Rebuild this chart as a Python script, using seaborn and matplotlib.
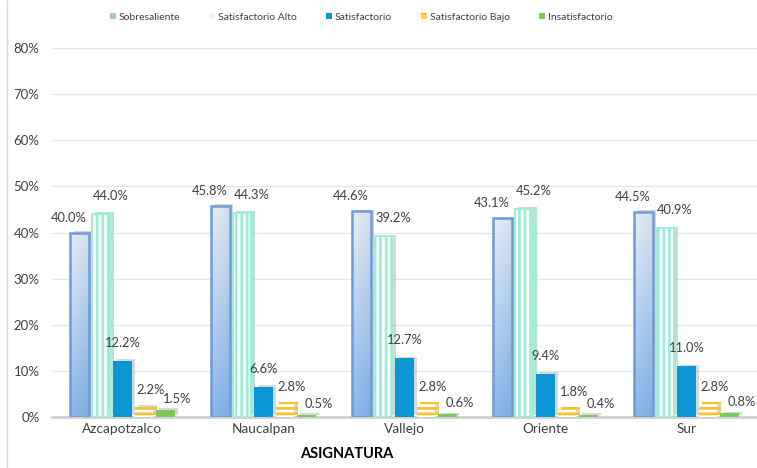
import numpy as np
import pandas as pd
import matplotlib
matplotlib.use("Agg")
import matplotlib.pyplot as plt
import matplotlib.patheffects as pe
from matplotlib.patches import Patch, Rectangle
from matplotlib.lines import Line2D
from matplotlib.colors import to_rgb
import seaborn as sns

# ---- data ----
campus = ["Azcapotzalco", "Naucalpan", "Vallejo", "Oriente", "Sur"]
niveles = ["Sobresaliente", "Satisfactorio Alto", "Satisfactorio",
           "Satisfactorio Bajo", "Insatisfactorio"]
sobresaliente = [40.0, 45.8, 44.6, 43.1, 44.5]
satisf_alto = [44.0, 44.3, 39.2, 45.2, 40.9]
satisfactorio = [12.2, 6.6, 12.7, 9.4, 11.0]
satisf_bajo = [2.2, 2.8, 2.8, 1.8, 2.8]
insatisf = [1.5, 0.5, 0.6, 0.4, 0.8]
yticks = [0, 10, 20, 30, 40, 50, 60, 70, 80]
xlabel = "ASIGNATURA"

series = [sobresaliente, satisf_alto, satisfactorio, satisf_bajo, insatisf]
df = pd.DataFrame([
    {"campus": c, "nivel": n, "valor": v}
    for n, vals in zip(niveles, series) for c, v in zip(campus, vals)
])

sns.set_theme(style="white")
plt.rcParams["font.family"] = ["Lato", "DejaVu Sans"]
plt.rcParams["hatch.linewidth"] = 2.0

fig = plt.figure(figsize=(7.57, 4.68), dpi=100)
ax = fig.add_axes([52 / 757, 1 - 417 / 468, 705 / 757, (417 - 48) / 468])

palette = ["#ffffff", "#ffffff", "#0b96d5", "#ffffff", "#7cc95d"]
sns.barplot(data=df, x="campus", y="valor", hue="nivel", order=campus,
            hue_order=niveles, palette=palette, width=0.762, gap=0.12,
            legend=False, ax=ax, zorder=3, saturation=1)

shadow = [pe.SimplePatchShadow(offset=(2.5, 1.2), shadow_rgbFace="#7f7f7f", alpha=0.3),
          pe.Normal()]

cont = ax.containers
# Sobresaliente: gradient fill + blue border
top_c = np.array(to_rgb("#e4eefa"))
bot_c = np.array(to_rgb("#88b8ee"))
for p in cont[0]:
    p.set_facecolor("#ffffff")
    p.set_edgecolor("none")
    p.set_path_effects(shadow)
    x0, w, h = p.get_x(), p.get_width(), p.get_height()
    t = np.linspace(0, 1, 64)[:, None]
    s = np.linspace(0, 1, 8)[None, :]
    grad = (top_c[None, None, :] * (1 - t[..., None]) + bot_c[None, None, :] * t[..., None])
    grad = grad * (1 - 0.06 * s[..., None])
    grad = np.clip(grad, 0, 1)
    im = ax.imshow(grad, extent=[x0, x0 + w, 0, h], aspect="auto",
                   zorder=3.05, interpolation="bilinear")
    im.set_clip_path(p)
    ax.add_patch(Rectangle((x0, 0), w, h, facecolor="none", edgecolor="#6f9bd6",
                           linewidth=1.8, zorder=3.1))
# Satisfactorio Alto: vertical mint stripes
for p in cont[1]:
    p.set_facecolor("#ffffff")
    p.set_edgecolor("#9eeed6")
    p.set_hatch("|||")
    p.set_linewidth(1.4)
    p.set_path_effects(shadow)
for p in cont[2]:
    p.set_edgecolor("none")
    p.set_path_effects(shadow)
for p in cont[3]:
    p.set_facecolor("#ffffff")
    p.set_edgecolor("#f7c22e")
    p.set_hatch("---")
    p.set_linewidth(0)
    p.set_path_effects(shadow)
for p in cont[4]:
    p.set_edgecolor("none")
    p.set_path_effects(shadow)

# data labels
offsets = [(-11, 15), (10, 18), (0, 18), (7, 17), (12, 11)]
for ci, c in enumerate(cont):
    dx, dy = offsets[ci]
    for p in c:
        h = p.get_height()
        ax.annotate(f"{h:.1f}%", xy=(p.get_x() + p.get_width() / 2, h),
                    xytext=(dx, dy), textcoords="offset pixels",
                    ha="center", va="center", fontsize=9.3, color="#404040",
                    zorder=5)

ax.set_xlim(-0.5, 4.5)
ax.set_ylim(0, 80)
ax.set_yticks(yticks)
ax.set_yticklabels([f"{v}%" for v in yticks])
ax.yaxis.grid(True, color="#e6e6e6", linewidth=0.9, zorder=0)
ax.set_axisbelow(True)
for s in ["left", "right", "top"]:
    ax.spines[s].set_visible(False)
ax.spines["bottom"].set_color("#d0d0d0")
ax.spines["bottom"].set_linewidth(2)
ax.spines["bottom"].set_zorder(2)
ax.tick_params(axis="y", length=0, pad=9, labelsize=9.5, labelcolor="#404040")
ax.tick_params(axis="x", length=0, pad=4, labelsize=9.8, labelcolor="#404040")
ax.set_xlabel("")
ax.set_ylabel("")

fig.text(347 / 757, 1 - 454 / 468, xlabel, ha="center", va="center",
         fontsize=10.5, fontweight="bold", color="#000000")

# legend
handles = [
    Patch(facecolor="#9fc3ec", edgecolor="none"),
    Patch(facecolor="#e2fbf3", edgecolor="none"),
    Patch(facecolor="#0b96d5", edgecolor="none"),
    Patch(facecolor="#ffd34d", edgecolor="#f0a800", hatch="--", linewidth=0),
    Patch(facecolor="#7cc95d", edgecolor="none"),
]
leg = fig.legend(handles, niveles, loc="center", bbox_to_anchor=(361 / 757, 1 - 17 / 468),
                 ncol=5, frameon=False, fontsize=7.5, handlelength=0.6,
                 handleheight=0.6, handletextpad=0.25, columnspacing=2.8,
                 labelcolor="#404040", borderpad=0)

# chart border on the left
fig.add_artist(Line2D([7 / 757, 7 / 757], [0, 1], color="#d9d9d9", linewidth=1))

fig.savefig("out.png", dpi=100)
